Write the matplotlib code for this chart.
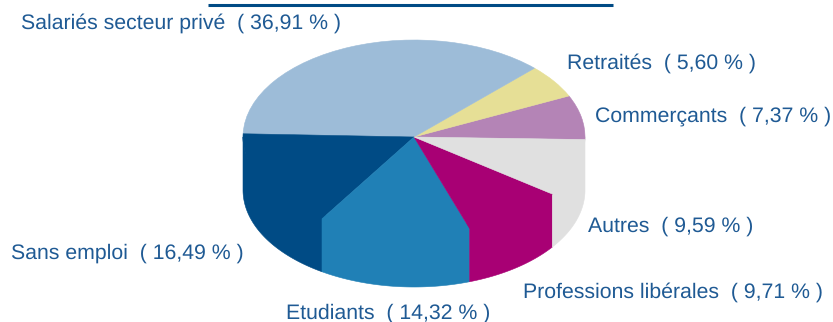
import numpy as np
import matplotlib
matplotlib.use("Agg")
import matplotlib.pyplot as plt

categories = ["Commerçants", "Retraités", "Salariés secteur privé", "Sans emploi",
              "Etudiants", "Professions libérales", "Autres"]
values = [7.37, 5.60, 36.91, 16.49, 14.32, 9.71, 9.59]
value_texts = ["7,37", "5,60", "36,91", "16,49", "14,32", "9,71", "9,59"]
colors = ["#B484B6", "#E6DF96", "#9DBCD8", "#004B85", "#2080B6", "#A80074", "#E0E0E0"]
label_px = [(595, 116), (567, 63.5), (21, 23), (11, 253), (286, 313), (523, 292), (588, 226)]

W, H = 833, 322
CX, CY, RX, RY, DEPTH = 414, 137, 171, 97, 53
START = -1.5
TEXT = "#1F5A94"

plt.rcParams["font.family"] = ["Liberation Sans", "DejaVu Sans"]
plt.rcParams["text.hinting"] = "no_hinting"
fig = plt.figure(figsize=(W / 100, H / 100), dpi=100)
ax = fig.add_axes([0, 0, 1, 1])

wedges, _ = ax.pie(values, colors=colors, startangle=START, counterclock=True, radius=1,
                   wedgeprops={"linewidth": 0, "zorder": 3})
for w, c in zip(wedges, colors):
    w.set_edgecolor(c)
    w.set_linewidth(0.4)
ax.set_aspect("auto")
ax.set_xlim((0 - CX) / RX, (W - CX) / RX)
ax.set_ylim((CY - H) / RY, CY / RY)
ax.axis("off")

# front wall of the extruded pie; its top edge runs under the matching wedge so no seam shows
d = DEPTH / RY
edges = START + np.concatenate([[0], np.cumsum(values)]) / np.sum(values) * 360
n = len(colors)
for i, (a1, a2, c) in enumerate(zip(edges[:-1], edges[1:], colors)):
    lo, hi = max(a1, 180), min(a2, 360)
    if i == n - 1:
        hi = 360
    if hi <= lo:
        continue
    t = np.radians(np.linspace(lo, hi, 80))
    x, y = np.cos(t), np.sin(t)
    ax.fill(np.r_[x, x[::-1]], np.r_[y * 0.94, y[::-1] - d], color=c, lw=0.4, zorder=2 + i * 0.01)

# rule left from the cropped heading
fig.add_artist(plt.Line2D([208 / W, 613 / W], [1 - 4.5 / H] * 2, color="#004B85", lw=2.2,
                          solid_capstyle="butt"))

for name, val, (px, py) in zip(categories, value_texts, label_px):
    fig.text(px / W, 1 - py / H, f"{name}  ( {val} % )", color=TEXT, fontsize=15.3,
             ha="left", va="center")

fig.savefig("out.png", dpi=100)
